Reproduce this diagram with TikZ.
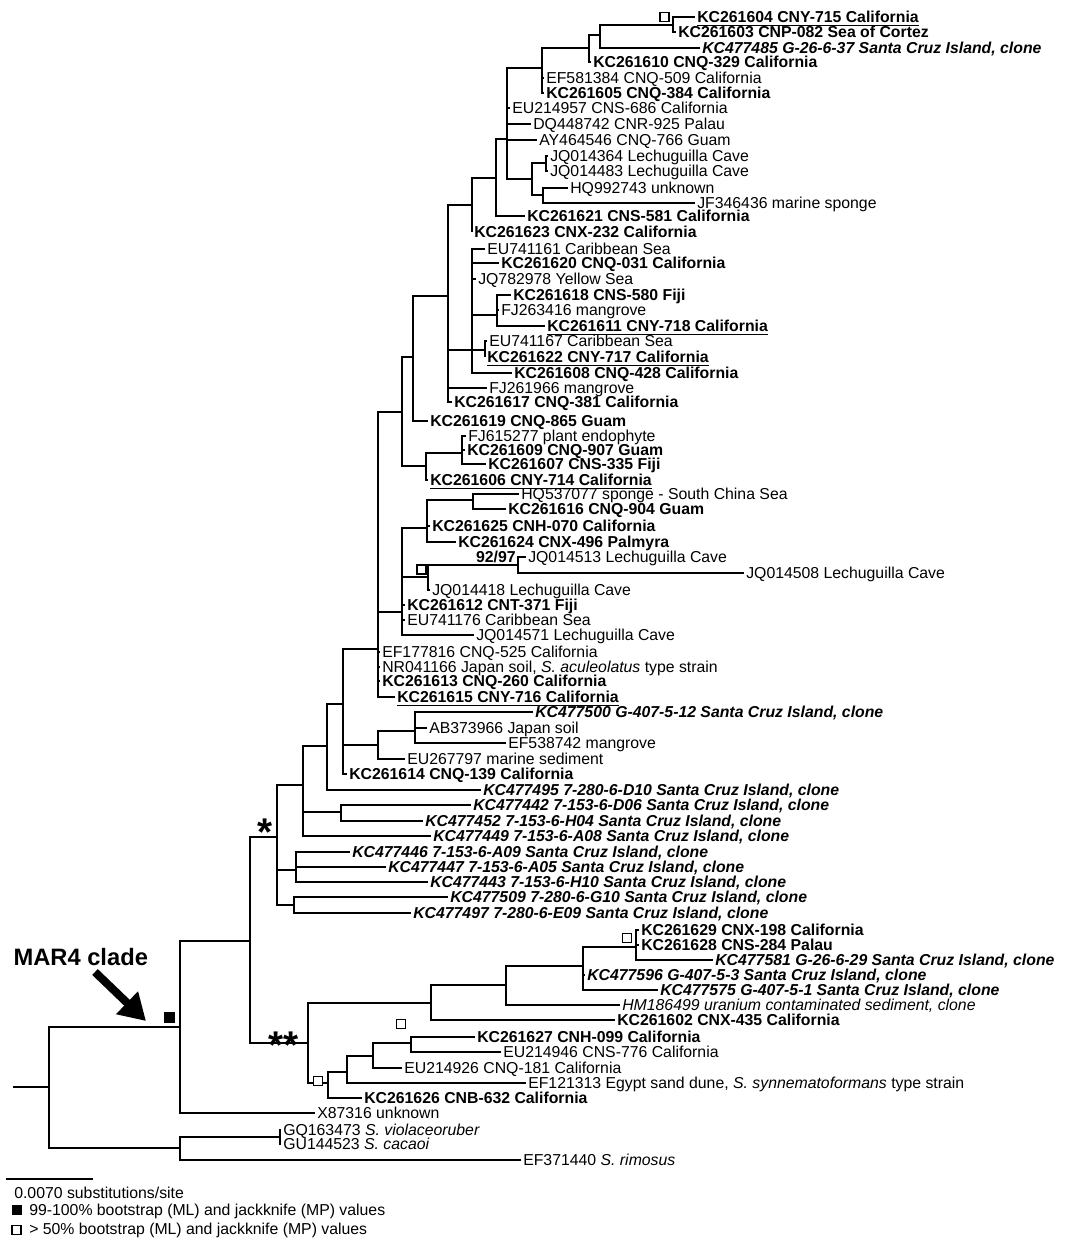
\documentclass[tikz,border=0pt]{standalone}
\usepackage{fontspec}
\setmainfont{Liberation Sans}
\usetikzlibrary{arrows.meta}
\newcommand{\lab}{\fontsize{9}{10}\selectfont}
\tikzset{
  leaf/.style={anchor=west, inner xsep=1pt, inner ysep=0pt, text height=6.4pt, text depth=0pt, font=\lab},
  iso/.style={leaf, font=\lab\bfseries},
  clone/.style={leaf, font=\lab\bfseries\itshape},
  envclone/.style={leaf, font=\lab\itshape},
  opensq/.style={draw, fill=white, line width=0.9pt, minimum size=0.18cm, inner sep=0pt},
  fullsq/.style={fill, minimum size=0.22cm, inner sep=0pt},
  starlab/.style={anchor=base, inner sep=0pt, font=\fontsize{22}{22}\selectfont\bfseries}
}

\begin{document}
\begin{tikzpicture}[x=0.02cm, y=-0.02cm, line width=0.6pt]
\useasboundingbox (0,0) rectangle (1066,1241);

% Leaves, top clade
\node[iso] (kc261604) at (695,17) {\underline{KC261604 CNY-715 California}};
\node[iso] (kc261603) at (676,32) {KC261603 CNP-082 Sea of Cortez};
\node[clone] (kc477485) at (700,48) {KC477485 G-26-6-37 Santa Cruz Island, clone};
\node[iso] (kc261610) at (591,62) {KC261610 CNQ-329 California};
\node[leaf] (ef581384) at (544,78) {EF581384 CNQ-509 California};
\node[iso] (kc261605) at (544,93) {KC261605 CNQ-384 California};
\node[leaf] (eu214957) at (510,108) {EU214957 CNS-686 California};
\node[leaf] (dq448742) at (531,124) {DQ448742 CNR-925 Palau};
\node[leaf] (ay464546) at (537,140) {AY464546 CNQ-766 Guam};
\node[leaf] (jq014364) at (548,156) {JQ014364 Lechuguilla Cave};
\node[leaf] (jq014483) at (548,171) {JQ014483 Lechuguilla Cave};
\node[leaf] (hq992743) at (568,188) {HQ992743 unknown};
\node[leaf] (jf346436) at (695,203) {JF346436 marine sponge};
\node[iso] (kc261621) at (525,216) {KC261621 CNS-581 California};
\node[iso] (kc261623) at (472,232) {KC261623 CNX-232 California};
\node[leaf] (eu741161) at (485,249) {EU741161 Caribbean Sea};
\node[iso] (kc261620) at (499,263) {KC261620 CNQ-031 California};
\node[leaf] (jq782978) at (476,279) {JQ782978 Yellow Sea};
\node[iso] (kc261618) at (511,295) {KC261618 CNS-580 Fiji};
\node[leaf] (fj263416) at (499,310) {FJ263416 mangrove};
\node[iso] (kc261611) at (545,326) {\underline{KC261611 CNY-718 California}};
\node[leaf] (eu741167) at (487,341) {EU741167 Caribbean Sea};
\node[iso] (kc261622) at (485,357) {\underline{KC261622 CNY-717 California}};
\node[iso] (kc261608) at (512,373) {KC261608 CNQ-428 California};
\node[leaf] (fj261966) at (487,388) {FJ261966 mangrove};
\node[iso] (kc261617) at (452,402) {KC261617 CNQ-381 California};
\node[iso] (kc261619) at (428,421) {KC261619 CNQ-865 Guam};
\node[leaf] (fj615277) at (466,436) {FJ615277 plant endophyte};
\node[iso] (kc261609) at (465,450) {KC261609 CNQ-907 Guam};
\node[iso] (kc261607) at (486,464) {KC261607 CNS-335 Fiji};
\node[iso] (kc261606) at (428,480) {\underline{KC261606 CNY-714 California}};
\node[leaf] (hq537077) at (519,494) {HQ537077 sponge - South China Sea};
\node[iso] (kc261616) at (506,509) {KC261616 CNQ-904 Guam};
\node[iso] (kc261625) at (430,526) {KC261625 CNH-070 California};
\node[iso] (kc261624) at (456,542) {KC261624 CNX-496 Palmyra};
\node[leaf] (jq014513) at (526,557) {JQ014513 Lechuguilla Cave};
\node[leaf] (jq014508) at (744,573) {JQ014508 Lechuguilla Cave};
\node[leaf] (jq014418) at (430,590) {JQ014418 Lechuguilla Cave};
\node[iso] (kc261612) at (405,605) {KC261612 CNT-371 Fiji};
\node[leaf] (eu741176) at (405,620) {EU741176 Caribbean Sea};
\node[leaf] (jq014571) at (474,635) {JQ014571 Lechuguilla Cave};
\node[leaf] (ef177816) at (380,652) {EF177816 CNQ-525 California};
\node[leaf] (nr041166) at (380,667) {NR041166 Japan soil, \textit{S. aculeolatus} type strain};
\node[iso] (kc261613) at (380,681) {KC261613 CNQ-260 California};
\node[iso] (kc261615) at (395,697) {\underline{KC261615 CNY-716 California}};
\node[clone] (kc477500) at (533,712) {KC477500 G-407-5-12 Santa Cruz Island, clone};
\node[leaf] (ab373966) at (427,728) {AB373966 Japan soil};
\node[leaf] (ef538742) at (506,743) {EF538742 mangrove};
\node[leaf] (eu267797) at (405,759) {EU267797 marine sediment};
\node[iso] (kc261614) at (347,774) {KC261614 CNQ-139 California};

% Leaves, Santa Cruz clones
\node[clone] (kc477495) at (481,790) {KC477495 7-280-6-D10 Santa Cruz Island, clone};
\node[clone] (kc477442) at (471,805) {KC477442 7-153-6-D06 Santa Cruz Island, clone};
\node[clone] (kc477452) at (423,821) {KC477452 7-153-6-H04 Santa Cruz Island, clone};
\node[clone] (kc477449) at (431,836) {KC477449 7-153-6-A08 Santa Cruz Island, clone};
\node[clone] (kc477446) at (350,852) {KC477446 7-153-6-A09 Santa Cruz Island, clone};
\node[clone] (kc477447) at (386,867) {KC477447 7-153-6-A05 Santa Cruz Island, clone};
\node[clone] (kc477443) at (428,882) {KC477443 7-153-6-H10 Santa Cruz Island, clone};
\node[clone] (kc477509) at (448,897) {KC477509 7-280-6-G10 Santa Cruz Island, clone};
\node[clone] (kc477497) at (411,913) {KC477497 7-280-6-E09 Santa Cruz Island, clone};

% Leaves, lower clade and outgroup
\node[iso] (kc261629) at (639,930) {KC261629 CNX-198 California};
\node[iso] (kc261628) at (639,945) {KC261628 CNS-284 Palau};
\node[clone] (kc477581) at (713,960) {KC477581 G-26-6-29 Santa Cruz Island, clone};
\node[clone] (kc477596) at (585,975) {KC477596 G-407-5-3 Santa Cruz Island, clone};
\node[clone] (kc477575) at (658,990) {KC477575 G-407-5-1 Santa Cruz Island, clone};
\node[envclone] (hm186499) at (620,1005) {HM186499 uranium contaminated sediment, clone};
\node[iso] (kc261602) at (615,1020) {KC261602 CNX-435 California};
\node[iso] (kc261627) at (475,1037) {KC261627 CNH-099 California};
\node[leaf] (eu214946) at (501,1052) {EU214946 CNS-776 California};
\node[leaf] (eu214926) at (402,1068) {EU214926 CNQ-181 California};
\node[leaf] (ef121313) at (526,1083) {EF121313 Egypt sand dune, \textit{S. synnematoformans} type strain};
\node[iso] (kc261626) at (362,1098) {KC261626 CNB-632 California};
\node[leaf] (x87316) at (315,1113) {X87316 unknown};
\node[leaf] (gq163473) at (281,1130) {GQ163473 \textit{S. violaceoruber}};
\node[leaf] (gu144523) at (281,1144) {GU144523 \textit{S. cacaoi}};
\node[leaf] (ef371440) at (521,1160) {EF371440 \textit{S. rimosus}};

% Internal nodes
\coordinate (stub) at (13,1087);
\coordinate (root) at (49,1087);
\coordinate (mar4) at (180,1027);
\coordinate (outg) at (180,1148);
\coordinate (n280) at (280,1137);
\coordinate (n250) at (250,941);
\coordinate (star) at (277,837);
\coordinate (dstar) at (308,1043);
\coordinate (u431) at (431,1003);
\coordinate (u506) at (506,985);
\coordinate (u583) at (583,966);
\coordinate (u636) at (636,947);
\coordinate (l328) at (328,1083);
\coordinate (l347) at (347,1072);
\coordinate (l373) at (373,1056);
\coordinate (l411) at (411,1043);
\coordinate (n303) at (303,785);
\coordinate (n296) at (296,870);
\coordinate (n294) at (294,905);
\coordinate (n327) at (327,746);
\coordinate (n341) at (341,812);
\coordinate (n343) at (343,704);
\coordinate (n378b) at (378,745);
\coordinate (n415) at (415,731);
\coordinate (n378) at (378,649);
\coordinate (n402b) at (402,612);
\coordinate (n427) at (427,528);
\coordinate (n473) at (473,500);
\coordinate (n428) at (428,577);
\coordinate (n518) at (518,565);
\coordinate (n402a) at (402,412);
\coordinate (n413) at (413,357);
\coordinate (n426) at (426,466);
\coordinate (n462) at (462,453);
\coordinate (n448) at (448,296);
\coordinate (n472a) at (472,205);
\coordinate (n472b) at (472,350);
\coordinate (n497) at (497,315);
\coordinate (n485) at (485,350);
\coordinate (n496) at (496,178);
\coordinate (n507) at (507,139);
\coordinate (n542) at (542,68);
\coordinate (n589) at (589,48);
\coordinate (n600) at (600,35);
\coordinate (n673) at (673,25);
\coordinate (n532) at (532,179);
\coordinate (n546) at (546,163);
\coordinate (n543) at (543,195);

% Branches
\draw (stub) -- (root);
\draw (root) |- (mar4) (root) |- (outg);
\draw (mar4) |- (n250) (mar4) |- (x87316.west);
\draw (outg) |- (n280) (outg) |- (ef371440.west);
\draw (n280) |- (gq163473.west) (n280) |- (gu144523.west);
\draw (n250) |- (star) (n250) |- (dstar);
\draw (dstar) |- (u431) (dstar) |- (l328);
\draw (u431) |- (u506) (u431) |- (kc261602.west);
\draw (u506) |- (u583) (u506) |- (hm186499.west);
\draw (u583) |- (u636) (u583) |- (kc477596.west) (u583) |- (kc477575.west);
\draw (u636) |- (kc261629.west) (u636) |- (kc261628.west) (u636) |- (kc477581.west);
\draw (l328) |- (l347) (l328) |- (kc261626.west);
\draw (l347) |- (l373) (l347) |- (ef121313.west);
\draw (l373) |- (l411) (l373) |- (eu214926.west);
\draw (l411) |- (kc261627.west) (l411) |- (eu214946.west);
\draw (star) |- (n303) (star) |- (n296) (star) |- (n294);
\draw (n296) |- (kc477446.west) (n296) |- (kc477447.west) (n296) |- (kc477443.west);
\draw (n294) |- (kc477509.west) (n294) |- (kc477497.west);
\draw (n303) |- (n327) (n303) |- (n341) (n303) |- (kc477449.west);
\draw (n341) |- (kc477442.west) (n341) |- (kc477452.west);
\draw (n327) |- (n343) (n327) |- (kc477495.west);
\draw (n343) |- (n378) (n343) |- (n378b) (n343) |- (kc261614.west);
\draw (n378b) |- (n415) (n378b) |- (eu267797.west);
\draw (n415) |- (kc477500.west) (n415) |- (ab373966.west) (n415) |- (ef538742.west);
\draw (n378) |- (n402a) (n378) |- (n402b) (n378) |- (ef177816.west) (n378) |- (nr041166.west)
      (n378) |- (kc261613.west) (n378) |- (kc261615.west);
\draw (n402b) |- (n427) (n402b) |- (n428) (n402b) |- (kc261612.west) (n402b) |- (eu741176.west)
      (n402b) |- (jq014571.west);
\draw (n427) |- (n473) (n427) |- (kc261625.west) (n427) |- (kc261624.west);
\draw (n473) |- (hq537077.west) (n473) |- (kc261616.west);
\draw (n428) |- (n518) (n428) |- (jq014418.west);
\draw (n518) |- (jq014513.west) (n518) |- (jq014508.west);
\draw (n402a) |- (n413) (n402a) |- (n426);
\draw (n426) |- (n462) (n426) |- (kc261606.west);
\draw (n462) |- (fj615277.west) (n462) |- (kc261609.west) (n462) |- (kc261607.west);
\draw (n413) |- (n448) (n413) |- (kc261619.west);
\draw (n448) |- (n472a) (n448) |- (n472b) (n448) |- (fj261966.west) (n448) |- (kc261617.west);
\draw (n472b) |- (eu741161.west) (n472b) |- (kc261620.west) (n472b) |- (jq782978.west)
      (n472b) |- (n497) (n472b) |- (n485) (n472b) |- (kc261608.west);
\draw (n497) |- (kc261618.west) (n497) |- (fj263416.west) (n497) |- (kc261611.west);
\draw (n485) |- (eu741167.west) (n485) |- (kc261622.west);
\draw (n472a) |- (n496) (n472a) |- (kc261623.west);
\draw (n496) |- (n507) (n496) |- (kc261621.west);
\draw (n507) |- (n542) (n507) |- (eu214957.west) (n507) |- (dq448742.west) (n507) |- (ay464546.west)
      (n507) |- (n532);
\draw (n532) |- (n546) (n532) |- (n543);
\draw (n546) |- (jq014364.west) (n546) |- (jq014483.west);
\draw (n543) |- (hq992743.west) (n543) |- (jf346436.west);
\draw (n542) |- (n589) (n542) |- (ef581384.west) (n542) |- (kc261605.west);
\draw (n589) |- (n600) (n589) |- (kc261610.west);
\draw (n600) |- (n673) (n600) |- (kc477485.west);
\draw (n673) |- (kc261604.west) (n673) |- (kc261603.west);

% Support marks
\node[fullsq] (bsmar4) at (169.5,1017.5) {};
\node[opensq] (bs604) at (664.5,17) {};
\node[opensq] (bs418) at (421.5,569.5) {};
\node[opensq] (bs629) at (627,938) {};
\node[opensq] (bs627) at (401,1024) {};
\node[opensq] (bs626) at (318,1081) {};
\node[leaf, anchor=east, font=\lab\bfseries] (bs9297) at (518,557) {\underline{92/97}};
\node[starlab] (st1) at (265,845.5) {*};
\node[starlab] (st2) at (284,1058.5) {**};

% MAR4 label and arrow
\node[anchor=west, inner sep=0pt, text height=9.5pt, text depth=0pt, font=\fontsize{13.5}{14}\selectfont\bfseries] (mar4lab) at (13,957) {MAR4 clade};
\coordinate (mar4tail) at (95,972);
\coordinate (mar4tip) at (146,1021);
\draw[line width=4.6pt, -{Triangle[length=15pt, width=17pt]}] (mar4tail) -- (mar4tip);

% Scale bar and key
\coordinate (sbl) at (6,1179);
\coordinate (sbr) at (93,1179);
\draw (sbl) -- (sbr);
\node[leaf] (sblab) at (12,1193) {0.0070 substitutions/site};
\node[fullsq, minimum size=0.2cm] (keyfull) at (17,1210) {};
\node[leaf] (keyfulltxt) at (27,1210) {99-100\% bootstrap (ML) and jackknife (MP) values};
\node[opensq] (keyopen) at (16.5,1230) {};
\node[leaf] (keyopentxt) at (27,1229) {> 50\% bootstrap (ML) and jackknife (MP) values};
\end{tikzpicture}
\end{document}
